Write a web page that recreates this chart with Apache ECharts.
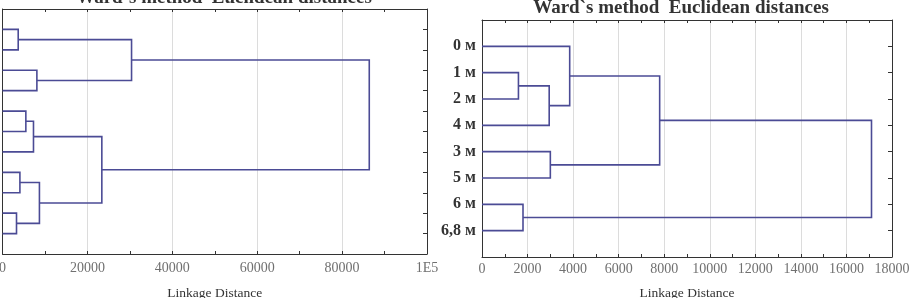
<!DOCTYPE html>
<html>
<head>
<meta charset="utf-8">
<script src="https://cdn.jsdelivr.net/npm/echarts@6/dist/echarts.min.js"></script>
<style>
html,body{margin:0;padding:0;background:#fff;}
#c{width:909px;height:298px;}
</style>
</head>
<body>
<div id="c"></div>
<script>
// ---- data ----
const titleText = 'Ward`s method  Euclidean distances';
const axisTitle = 'Linkage Distance';

// left panel: leaf names not visible in picture (cut off)
const leftLeaves = ['', '', '', '', '', '', '', '', '', '', ''];
// merges: [childA, childB, linkage distance]; children >= n are earlier clusters
const leftMerges = [
  [0, 1, 3700],
  [2, 3, 8100],
  [11, 12, 30400],
  [4, 5, 5500],
  [14, 6, 7300],
  [7, 8, 4100],
  [9, 10, 3300],
  [16, 17, 8700],
  [15, 18, 23400],
  [13, 19, 86400]
];
const leftMax = 100000;
const leftStep = 20000;

const rightLeaves = ['0 м', '1 м', '2 м', '4 м', '3 м', '5 м', '6 м', '6,8 м'];
const rightMerges = [
  [1, 2, 1600],
  [8, 3, 2950],
  [0, 9, 3850],
  [4, 5, 3000],
  [10, 11, 7800],
  [6, 7, 1800],
  [12, 13, 17100]
];
const rightMax = 18000;
const rightStep = 2000;

// ---- layout helper ----
function dendroSegments(leaves, merges) {
  const nodes = leaves.map((_, i) => ({ h: 0, y: i + 1 }));
  const segs = [];
  merges.forEach(m => {
    const a = nodes[m[0]], b = nodes[m[1]], h = m[2];
    segs.push({ coords: [[a.h, a.y], [h, a.y], [h, b.y], [b.h, b.y]] });
    nodes.push({ h: h, y: (a.y + b.y) / 2 });
  });
  return segs;
}

const lineColor = '#4b4b95';
const frameColor = '#333';
const serif = '"Liberation Serif", "Times New Roman", serif';

function xAxes(gridIndex, max, step, labelFmt, labelMargin, nameGap) {
  const common = {
    type: 'value', gridIndex: gridIndex, min: 0, max: max, interval: step,
    axisLine: { show: true, onZero: false, lineStyle: { color: frameColor, width: 1 } },
    axisTick: { show: true, inside: true, length: 3, lineStyle: { color: frameColor } },
    minorTick: { show: true, splitNumber: 2, length: 3, lineStyle: { color: frameColor } }
  };
  return [
    Object.assign({}, common, {
      position: 'bottom',
      splitLine: { show: true, lineStyle: { color: '#dcdcdc', width: 1 } },
      axisLabel: { show: true, formatter: labelFmt, margin: labelMargin, color: '#707070',
                   fontFamily: serif, fontSize: 14 },
      name: axisTitle, nameLocation: 'middle', nameGap: nameGap,
      nameTextStyle: { fontFamily: serif, fontSize: 13.5, color: '#333' }
    }),
    Object.assign({}, common, {
      position: 'top',
      splitLine: { show: false },
      axisLabel: { show: false }
    })
  ];
}

function yAxes(gridIndex, leaves, showLabels) {
  const n = leaves.length;
  const common = {
    type: 'value', gridIndex: gridIndex, min: 0, max: n + 1, interval: 1, inverse: true,
    splitLine: { show: false },
    axisLine: { show: true, onZero: false, lineStyle: { color: frameColor, width: 1 } }
  };
  return [
    Object.assign({}, common, {
      position: 'left',
      axisTick: { show: false },
      axisLabel: {
        show: showLabels, margin: 6, color: '#333', fontFamily: serif, fontSize: 16, fontWeight: 'bold',
        formatter: v => (v >= 1 && v <= n ? leaves[v - 1] : '')
      }
    }),
    Object.assign({}, common, {
      position: 'right',
      axisTick: { show: true, inside: true, length: 4, lineStyle: { color: frameColor } },
      axisLabel: { show: false }
    })
  ];
}

function titleEl(cx, cy) {
  return {
    type: 'text', x: cx, y: cy, silent: true,
    style: {
      text: titleText, font: 'bold 19px ' + serif, fill: '#333',
      align: 'center', verticalAlign: 'middle', textAlign: 'center', textVerticalAlign: 'middle'
    }
  };
}

const chart = echarts.init(document.getElementById('c'), null, { renderer: 'canvas' });
const option = {
  animation: false,
  backgroundColor: '#fff',
  graphic: [titleEl(224, -2), titleEl(681, 8)],
  grid: [
    { left: 2.5, right: 909 - 427, top: 9, bottom: 298 - 254, containLabel: false, outerBoundsMode: 'none' },
    { left: 482, right: 909 - 892, top: 20, bottom: 298 - 257, containLabel: false, outerBoundsMode: 'none' }
  ],
  xAxis: [].concat(
    xAxes(0, leftMax, leftStep, v => (v === 100000 ? '1E5' : String(v)), 7, 32),
    xAxes(1, rightMax, rightStep, v => String(v), 5, 29)
  ),
  yAxis: [].concat(
    yAxes(0, leftLeaves, false),
    yAxes(1, rightLeaves, true)
  ),
  series: [
    {
      type: 'lines', coordinateSystem: 'cartesian2d', xAxisIndex: 0, yAxisIndex: 0,
      polyline: true, silent: true,
      lineStyle: { color: lineColor, width: 1.6, opacity: 1 },
      data: dendroSegments(leftLeaves, leftMerges)
    },
    {
      type: 'lines', coordinateSystem: 'cartesian2d', xAxisIndex: 2, yAxisIndex: 2,
      polyline: true, silent: true,
      lineStyle: { color: lineColor, width: 1.6, opacity: 1 },
      data: dendroSegments(rightLeaves, rightMerges)
    }
  ]
};
chart.setOption(option);
</script>
</body>
</html>
